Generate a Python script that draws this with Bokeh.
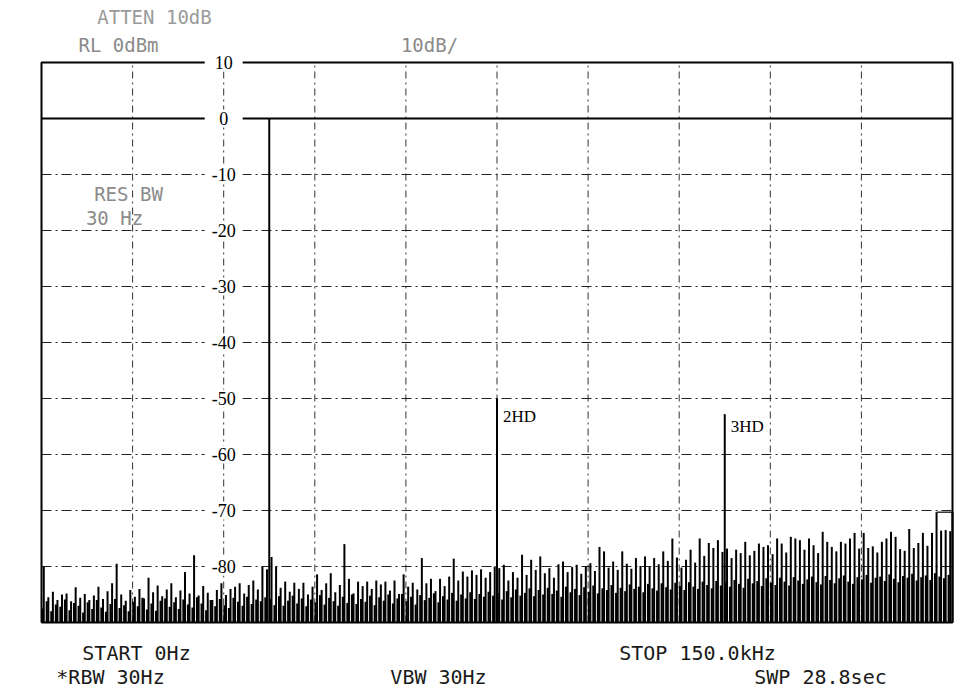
from bokeh.plotting import figure
from bokeh.models import (ColumnDataSource, Range1d, Label, LabelSet)
from bokeh.core.properties import value
from bokeh.embed import file_html
from bokeh.resources import INLINE

# ---------------- data ----------------
# spectrum analyzer sweep 0 - 150 kHz, dB values
start_khz = 0.0
stop_khz = 150.0
bin_khz = 0.75
y_bottom = -90.0          # bottom graticule line
y_top = 10.0              # top graticule line

y_tick_values = [10, 0, -10, -20, -30, -40, -50, -60, -70, -80]
y_tick_labels = ["10", "0", "-10", "-20", "-30", "-40", "-50", "-60", "-70", "-80"]
y_grid_db = [-10, -20, -30, -40, -50, -60, -70, -80]
x_grid_khz = [15, 30, 45, 60, 75, 90, 105, 120, 135]

# tones: fundamental and harmonics
tone_khz = [37.5, 75.0, 112.5]
tone_db = [0.0, -50.0, -52.8]
tone_names = ["", "2HD", "3HD"]

# noise spikes (peak tops) per 0.75 kHz bin
noise_peak_db = [
    -80.0, -85.5, -84.5, -86.0, -85.0, -84.8, -86.2, -83.7, -85.6, -84.9,
    -86.0, -85.2, -83.6, -85.8, -84.4, -83.0, -79.5, -85.0, -86.1, -84.2,
    -85.4, -84.0, -85.7, -82.0, -84.6, -83.4, -85.3, -84.1, -83.0, -85.5,
    -84.3, -81.0, -84.8, -78.0, -85.2, -83.5, -84.7, -86.0, -84.2, -83.0,
    -85.1, -84.0, -83.6, -83.0, -84.8, -83.3, -82.5, -84.1, -80.0, -80.5,
    -78.3, -80.0, -83.8, -82.7, -84.5, -82.9, -84.0, -82.9, -85.0, -83.6,
    -81.4, -84.2, -83.0, -81.2, -84.6, -83.3, -76.0, -82.2, -84.8, -82.7,
    -83.5, -82.7, -84.0, -82.5, -83.2, -82.7, -84.3, -82.5, -84.9, -81.4,
    -83.6, -82.9, -84.1, -78.5, -83.0, -82.2, -84.4, -82.2, -83.5, -81.8,
    -78.6, -82.5, -80.9, -81.8, -80.7, -81.5, -80.5, -82.0, -81.0, -80.0,
    -80.3, -79.7, -82.5, -81.0, -82.0, -77.9, -81.5, -78.8, -80.6, -78.2,
    -81.2, -80.3, -82.0, -79.6, -79.1, -81.0, -80.1, -79.7, -81.3, -80.0,
    -79.4, -80.8, -76.5, -77.3, -80.2, -79.1, -80.6, -77.3, -79.5, -80.4,
    -78.5, -79.9, -78.2, -80.1, -78.5, -79.6, -77.3, -79.0, -75.0, -78.4,
    -80.2, -78.8, -77.0, -79.3, -75.0, -78.1, -75.8, -76.7, -75.3, -77.4,
    -76.8, -78.5, -77.0, -77.6, -75.6, -78.0, -77.2, -75.9, -76.5, -76.2,
    -77.8, -75.0, -75.9, -77.5, -74.7, -75.0, -75.3, -77.0, -75.0, -76.2,
    -77.6, -73.8, -75.6, -76.5, -77.3, -75.6, -75.9, -75.0, -74.0, -76.8,
    -74.0, -76.7, -76.4, -77.5, -75.6, -75.0, -73.8, -74.7, -76.9, -77.2,
    -73.3, -76.7, -75.8, -74.0, -76.3, -74.0, -70.3, -73.6, -73.5, -73.7,
]

# lower noise-floor spikes, between the peak bins
noise_floor_db = [
    -87.5, -86.2, -88.0, -86.8, -87.2, -85.9, -87.8, -86.5, -87.0, -88.2,
    -86.4, -87.6, -86.0, -87.3, -88.1, -86.7, -85.8, -87.4, -86.9, -88.0,
    -86.3, -87.1, -85.6, -87.7, -86.6, -87.9, -86.1, -85.7, -87.2, -86.4,
    -87.6, -85.9, -86.8, -87.3, -85.5, -86.6, -87.8, -86.0, -87.1, -85.8,
    -86.9, -87.4, -85.6, -86.3, -87.0, -85.4, -86.7, -85.9, -86.2, -85.5,
    -85.8, -86.9, -85.3, -87.0, -86.1, -85.2, -86.6, -85.7, -87.1, -85.9,
    -86.4, -85.1, -86.8, -85.6, -86.2, -87.0, -85.4, -86.5, -85.0, -86.7,
    -85.8, -86.3, -85.2, -86.9, -85.5, -86.1, -85.0, -86.6, -85.7, -84.9,
    -86.2, -85.4, -86.8, -85.1, -86.0, -85.6, -84.8, -86.4, -85.3, -85.9,
    -84.7, -86.1, -85.0, -85.7, -84.6, -85.8, -84.9, -85.4, -84.5, -85.2,
    -84.8, -85.9, -84.4, -85.5, -84.1, -85.2, -84.7, -83.9, -85.3, -84.2,
    -85.0, -83.8, -84.9, -84.3, -85.4, -83.6, -84.6, -84.0, -85.1, -83.7,
    -84.5, -83.4, -84.8, -83.9, -84.2, -83.3, -84.7, -83.8, -84.4, -83.2,
    -84.0, -83.6, -84.6, -83.1, -83.9, -84.3, -83.0, -83.7, -84.1, -82.9,
    -83.5, -84.2, -82.8, -83.6, -84.0, -82.7, -83.3, -83.9, -82.6, -83.4,
    -82.8, -83.6, -82.4, -83.1, -83.8, -82.2, -83.0, -82.6, -83.5, -82.1,
    -82.9, -83.3, -82.0, -82.7, -83.4, -81.9, -82.5, -83.1, -82.3, -81.8,
    -82.8, -83.2, -81.7, -82.4, -83.0, -82.1, -81.6, -82.7, -83.1, -81.9,
    -82.3, -81.5, -82.9, -82.0, -81.8, -82.6, -81.4, -82.2, -82.8, -81.7,
    -82.0, -81.3, -82.5, -81.9, -81.6, -82.4, -81.2, -81.8, -82.1, -81.5,
]

# trace held at the end of the sweep
tail_khz = [147.4, 150.0]
tail_db = [-70.3, -70.3]

header_texts = ["ATTEN 10dB", "RL 0dBm", "10dB/"]
inner_texts = ["RES BW", "30 Hz"]
footer_texts = ["START 0Hz", "STOP 150.0kHz", "*RBW 30Hz", "VBW 30Hz", "SWP 28.8sec"]

# ---------------- figure ----------------
# The frame spans the whole page; the graticule occupies pixels 41..952 x 62..622
W, H = 955, 697
GX0, GX1, GY0, GY1 = 41, 952, 62, 622
kx = (GX1 - GX0) / (stop_khz - start_khz)
ky = (GY1 - GY0) / (y_top - y_bottom)
xr = Range1d(start_khz - GX0 / kx, stop_khz + (W - GX1) / kx)
yr = Range1d(y_bottom - (H - GY1) / ky, y_top + GY0 / ky)

p = figure(width=W, height=H, output_backend="svg", toolbar_location=None,
           x_range=xr, y_range=yr, x_axis_location=None, y_axis_location=None,
           min_border=0)
p.background_fill_color = "white"
p.border_fill_color = "white"
p.outline_line_color = None
p.grid.visible = False

# graticule lines
nv = len(x_grid_khz)
p.segment(x0=x_grid_khz, y0=[y_bottom] * nv, x1=x_grid_khz, y1=[y_top] * nv,
          line_color="#333333", line_width=1, line_dash="7 4 2 4")
nh = len(y_grid_db)
p.segment(x0=[start_khz] * nh, y0=y_grid_db, x1=[stop_khz] * nh, y1=y_grid_db,
          line_color="#222222", line_width=1, line_dash="10 4 2 4")
p.line(x=[start_khz, stop_khz], y=[0, 0], line_color="black", line_width=2)
p.line(x=[start_khz, start_khz, stop_khz, stop_khz, start_khz],
       y=[y_bottom, y_top, y_top, y_bottom, y_bottom], line_color="black", line_width=2)

# noise
n = len(noise_peak_db)
peak_x = [start_khz + bin_khz * (i + 0.5) for i in range(n)]
floor_x = [start_khz + bin_khz * i + 0.12 for i in range(n)]
p.segment(x0=floor_x, y0=[y_bottom] * n, x1=floor_x, y1=noise_floor_db,
          line_color="black", line_width=2.2)
p.segment(x0=peak_x, y0=[y_bottom] * n, x1=peak_x, y1=noise_peak_db,
          line_color="black", line_width=2.0)
p.line(x=tail_khz, y=tail_db, line_color="black", line_width=1.2)
p.segment(x0=[tail_khz[-1]], y0=[y_bottom], x1=[tail_khz[-1]], y1=[tail_db[-1]],
          line_color="black", line_width=2)

# tones
p.segment(x0=tone_khz, y0=[y_bottom] * 3, x1=tone_khz, y1=tone_db,
          line_color="black", line_width=2)
src_t = ColumnDataSource(dict(x=tone_khz[1:], y=tone_db[1:], t=tone_names[1:],
                              dy=[8, 3]))
p.text(x="x", y="y", text="t", source=src_t, x_offset=6, y_offset="dy",
       text_font=value("Liberation Serif"), text_font_size="17px",
       text_align="left", text_baseline="top", text_color="black")

# y tick labels drawn in the graticule at the 30 kHz line, on white patches
src_y = ColumnDataSource(dict(x=[x_grid_khz[1]] * len(y_tick_values), y=y_tick_values, t=y_tick_labels))
p.rect(x="x", y="y", source=src_y, width=38, height=18, width_units="screen",
       height_units="screen", fill_color="white", line_color=None)
p.add_layout(LabelSet(x="x", y="y", text="t", source=src_y, x_offset=0,
                      text_align="center", text_baseline="middle",
                      text_font=value("Liberation Serif"), text_font_size="18px",
                      text_color="black"))

# screen texts (frame covers the page, y measured from the bottom)
def scr_label(txt, cx, cy, color, size, align="center"):
    p.add_layout(Label(x=cx, y=H - cy, x_units="screen", y_units="screen",
                       text=txt, text_align=align, text_baseline="middle",
                       text_font="DejaVu Sans Mono", text_font_size=size,
                       text_color=color))

scr_label(header_texts[0], 154, 16, "#9a9a9a", "19px")
scr_label(header_texts[1], 118, 44, "#8a8a8a", "19px")
scr_label(header_texts[2], 429, 44, "#8a8a8a", "19px")
scr_label(inner_texts[0], 128, 193, "#8a8a8a", "19px")
scr_label(inner_texts[1], 114, 217, "#8a8a8a", "19px")
scr_label(footer_texts[0], 136, 652, "#1a1a1a", "20px")
scr_label(footer_texts[1], 697, 652, "#1a1a1a", "20px")
scr_label(footer_texts[2], 110, 676, "#1a1a1a", "20px")
scr_label(footer_texts[3], 438, 676, "#1a1a1a", "20px")
scr_label(footer_texts[4], 820, 676, "#1a1a1a", "20px")

open("out.html", "w").write(file_html(p, INLINE))
